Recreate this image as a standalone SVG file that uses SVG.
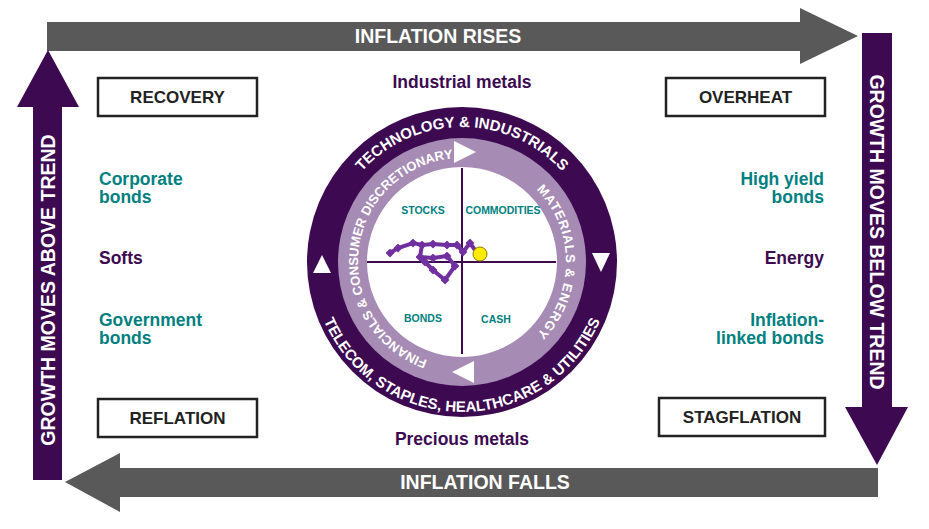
<svg xmlns="http://www.w3.org/2000/svg" width="929" height="529" viewBox="0 0 929 529">
<style>
.b{fill:#fff;stroke:#222;stroke-width:2.5}
.bt{font:bold 17px "Liberation Sans",Arial,sans-serif;fill:#222;text-anchor:middle}
.at{font:bold 19.5px "Liberation Sans",Arial,sans-serif;fill:#fff;text-anchor:middle}
.tl{font:bold 17.5px "Liberation Sans",Arial,sans-serif;fill:#008080}
.pl{font:bold 17.5px "Liberation Sans",Arial,sans-serif;fill:#3d0a52}
.rt{font:bold 15px "Liberation Sans",Arial,sans-serif;fill:#fff}
.it{font:bold 13px "Liberation Sans",Arial,sans-serif;fill:#fff}
.q{font:bold 10.5px "Liberation Sans",Arial,sans-serif;fill:#008080;text-anchor:middle}
</style>
<defs>
<path id="po" d="M327,262 A135,135 0 0 1 597,262"/>
<path id="pb" d="M312,262 A150,150 0 0 0 612,262"/>
<path id="pil" d="M462,366 A104,104 0 0 1 462,158"/>
<path id="pir" d="M462,158 A104,104 0 0 1 462,366"/>
<marker id="dm" viewBox="-5 -5 10 10" markerWidth="9" markerHeight="9" markerUnits="userSpaceOnUse"><rect x="-3.5" y="-3.5" width="7" height="7" transform="rotate(45)" fill="#7030a0"/></marker>
</defs>
<g id="connectors">
<polygon id="rises" points="47,22 800,22 800,8 858,36 800,64 800,51 47,51" fill="#595959"/>
<polygon id="falls" points="878,468 120,468 120,453 65,482 120,512 120,497 878,497" fill="#595959"/>
<polygon id="above" points="33,480 33,107 17,107 48,50 79,107 62,107 62,480" fill="#3d0a52"/>
<polygon id="below" points="862,33 892,33 892,407 908,407 877,465 845,407 862,407" fill="#3d0a52"/>
</g>
<text class="at" x="438" y="43">INFLATION RISES</text>
<text class="at" x="485" y="489">INFLATION FALLS</text>
<text class="at" transform="translate(55,290) rotate(-90)">GROWTH MOVES ABOVE TREND</text>
<text class="at" transform="translate(870,232) rotate(90)">GROWTH MOVES BELOW TREND</text>
<g id="recovery"><rect class="b" x="98" y="78" width="159" height="38"/><text class="bt" x="177.5" y="103">RECOVERY</text></g>
<g id="overheat"><rect class="b" x="666" y="78" width="159" height="38"/><text class="bt" x="745.5" y="103">OVERHEAT</text></g>
<g id="reflation"><rect class="b" x="98" y="399" width="159" height="38"/><text class="bt" x="177.5" y="424">REFLATION</text></g>
<g id="stagflation"><rect class="b" x="659" y="398" width="166" height="38"/><text class="bt" x="742" y="423">STAGFLATION</text></g>
<text class="pl" x="462" y="88" text-anchor="middle">Industrial metals</text>
<text class="pl" x="462" y="445" text-anchor="middle">Precious metals</text>
<text class="tl" x="99" y="185">Corporate</text><text class="tl" x="99" y="203">bonds</text>
<text class="pl" x="99" y="264">Softs</text>
<text class="tl" x="99" y="326">Government</text><text class="tl" x="99" y="344">bonds</text>
<text class="tl" x="824" y="185" text-anchor="end">High yield</text><text class="tl" x="824" y="203" text-anchor="end">bonds</text>
<text class="pl" x="824" y="264" text-anchor="end">Energy</text>
<text class="tl" x="824" y="326" text-anchor="end">Inflation-</text><text class="tl" x="824" y="344" text-anchor="end">linked bonds</text>
<g id="clock">
<circle cx="462" cy="262" r="155" fill="#3d0a52"/>
<circle cx="462" cy="262" r="124" fill="#a68bb4"/>
<circle cx="462" cy="262" r="95" fill="#fff"/>
<line x1="367" y1="262" x2="556" y2="262" stroke="#3d0a52" stroke-width="2"/>
<line x1="462" y1="168" x2="462" y2="354" stroke="#3d0a52" stroke-width="2"/>
<polygon points="454,141 476,152 454,163" fill="#fff"/>
<polygon points="474,361 452,372 474,383" fill="#fff"/>
<polygon points="313,273 322,255 331,273" fill="#fff"/>
<polygon points="592,253 610,253 601,272" fill="#fff"/>
<text class="rt"><textPath href="#po" startOffset="50%" text-anchor="middle">TECHNOLOGY &amp; INDUSTRIALS</textPath></text>
<text class="rt"><textPath href="#pb" startOffset="50%" text-anchor="middle">TELECOM, STAPLES, HEALTHCARE &amp; UTILITIES</textPath></text>
<text class="it"><textPath href="#pil" startOffset="54%" text-anchor="middle">FINANCIALS &amp; CONSUMER DISCRETIONARY</textPath></text>
<text class="it" letter-spacing="0.8"><textPath href="#pir" startOffset="50%" text-anchor="middle">MATERIALS &amp; ENERGY</textPath></text>
<text class="q" x="423" y="214">STOCKS</text>
<text class="q" x="503" y="214">COMMODITIES</text>
<text class="q" x="423" y="322">BONDS</text>
<text class="q" x="496" y="323">CASH</text>
<polyline points="390,253 398,248 413,243 422,245 433,244 447,245 457,245 463,252 470,243 475,250" fill="none" stroke="#7030a0" stroke-width="4" marker-start="url(#dm)" marker-mid="url(#dm)"/>
<polyline points="422,245 420,257 433,258 447,256 455,266 445,280 433,270 425,262 420,257" fill="none" stroke="#7030a0" stroke-width="4" marker-mid="url(#dm)"/>
<circle cx="480" cy="254" r="7" fill="#ffeb00" stroke="#8a7a00" stroke-width="1"/>
</g>
</svg>
